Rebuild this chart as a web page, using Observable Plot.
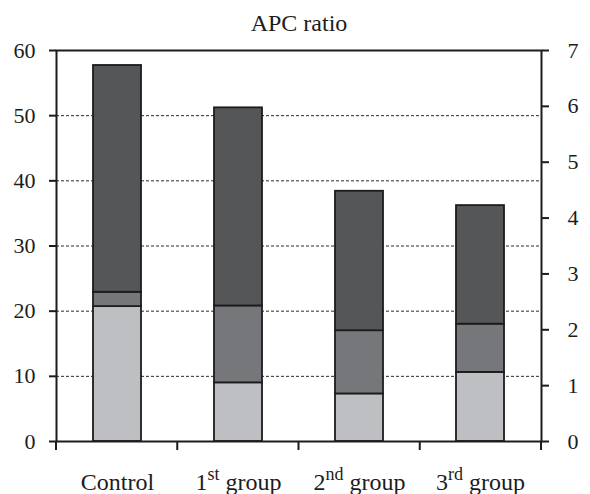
<!DOCTYPE html>
<html>
<head>
<meta charset="utf-8">
<script src="https://cdn.jsdelivr.net/npm/d3@7"></script>
<script src="https://cdn.jsdelivr.net/npm/@observablehq/plot@0.6"></script>
<style>
  html, body { margin: 0; padding: 0; background: #fff; }
</style>
</head>
<body>
<div id="chart"></div>
<script>
const title = "APC ratio";
const categories = ["Control", "1st group", "2nd group", "3rd group"];
const series = ["lower", "middle", "upper"];
const lower = [20.7, 9.0, 7.3, 10.6];
const middle = [2.2, 11.8, 9.7, 7.4];
const upper = [34.8, 30.4, 21.4, 18.2];
const colors = ["#bebfc2", "#76777b", "#555658"];
const leftTicks = [0, 10, 20, 30, 40, 50, 60];
const rightTicks = [0, 1, 2, 3, 4, 5, 6, 7];
const gridValues = [10, 20, 30, 40, 50];
const yMax = 60;
const rightMax = 7;

const seriesValues = {lower, middle, upper};
const rows = categories.flatMap((c, i) =>
  series.map(s => ({category: c, series: s, value: seriesValues[s][i]}))
);

const W = 590, H = 494, mL = 56, mR = 49, mT = 50, mB = 53;
const ink = "#1c1c1c";
const catSize = 24;

const plot = Plot.plot({
  width: W, height: H,
  marginTop: mT, marginBottom: mB, marginLeft: mL, marginRight: mR,
  style: {fontFamily: "'Liberation Serif', 'Times New Roman', serif", fontSize: "22px", color: ink, background: "#fff", overflow: "visible"},
  x: {domain: categories, paddingInner: 0.6, paddingOuter: 0.3, label: null},
  y: {domain: [0, yMax], label: null},
  color: {domain: series, range: colors},
  marks: [
    Plot.ruleY(gridValues, {stroke: "#2a2a2a", strokeWidth: 1, strokeDasharray: "3,2"}),
    Plot.barY(rows, {x: "category", y: "value", fill: "series", stroke: ink, strokeWidth: 1.8}),
    Plot.frame({stroke: ink, strokeWidth: 2}),
    Plot.axisY(leftTicks, {anchor: "left", tickSize: 7, tickPadding: 14, fontSize: 22, label: null, stroke: ink, strokeWidth: 2}),
    Plot.axisY(rightTicks.map(v => v * yMax / rightMax), {anchor: "right", tickSize: 7, tickPadding: 19, fontSize: 22, label: null, stroke: ink, strokeWidth: 2, tickFormat: d => String(Math.round(d * rightMax / yMax))}),
    Plot.axisX({tickSize: 0, tickPadding: 31, fontSize: catSize, label: null}),
    Plot.text([title], {frameAnchor: "top", lineAnchor: "middle", dy: -27, fontSize: 24, fill: ink})
  ]
});

document.getElementById("chart").appendChild(plot);

// category boundary ticks below the x axis
const svg = d3.select(plot);
const step = (W - mL - mR) / categories.length;
svg.append("g")
  .selectAll("line")
  .data(d3.range(categories.length + 1))
  .join("line")
  .attr("x1", i => mL + i * step)
  .attr("x2", i => mL + i * step)
  .attr("y1", H - mB)
  .attr("y2", H - mB + 9)
  .attr("stroke", ink)
  .attr("stroke-width", 2);

// superscript ordinals in category labels
const shift = Math.round(catSize * 0.42);
plot.querySelectorAll("text").forEach(t => {
  const m = /^(\d+)(st|nd|rd|th)\s(.*)$/.exec(t.textContent);
  if (!m || t.children.length) return;
  t.textContent = "";
  const sel = d3.select(t);
  sel.append("tspan").text(m[1]);
  sel.append("tspan").attr("dy", -shift).attr("font-size", Math.round(catSize * 0.74)).text(m[2]);
  sel.append("tspan").attr("dy", shift).text(" " + m[3]);
});
</script>
</body>
</html>
